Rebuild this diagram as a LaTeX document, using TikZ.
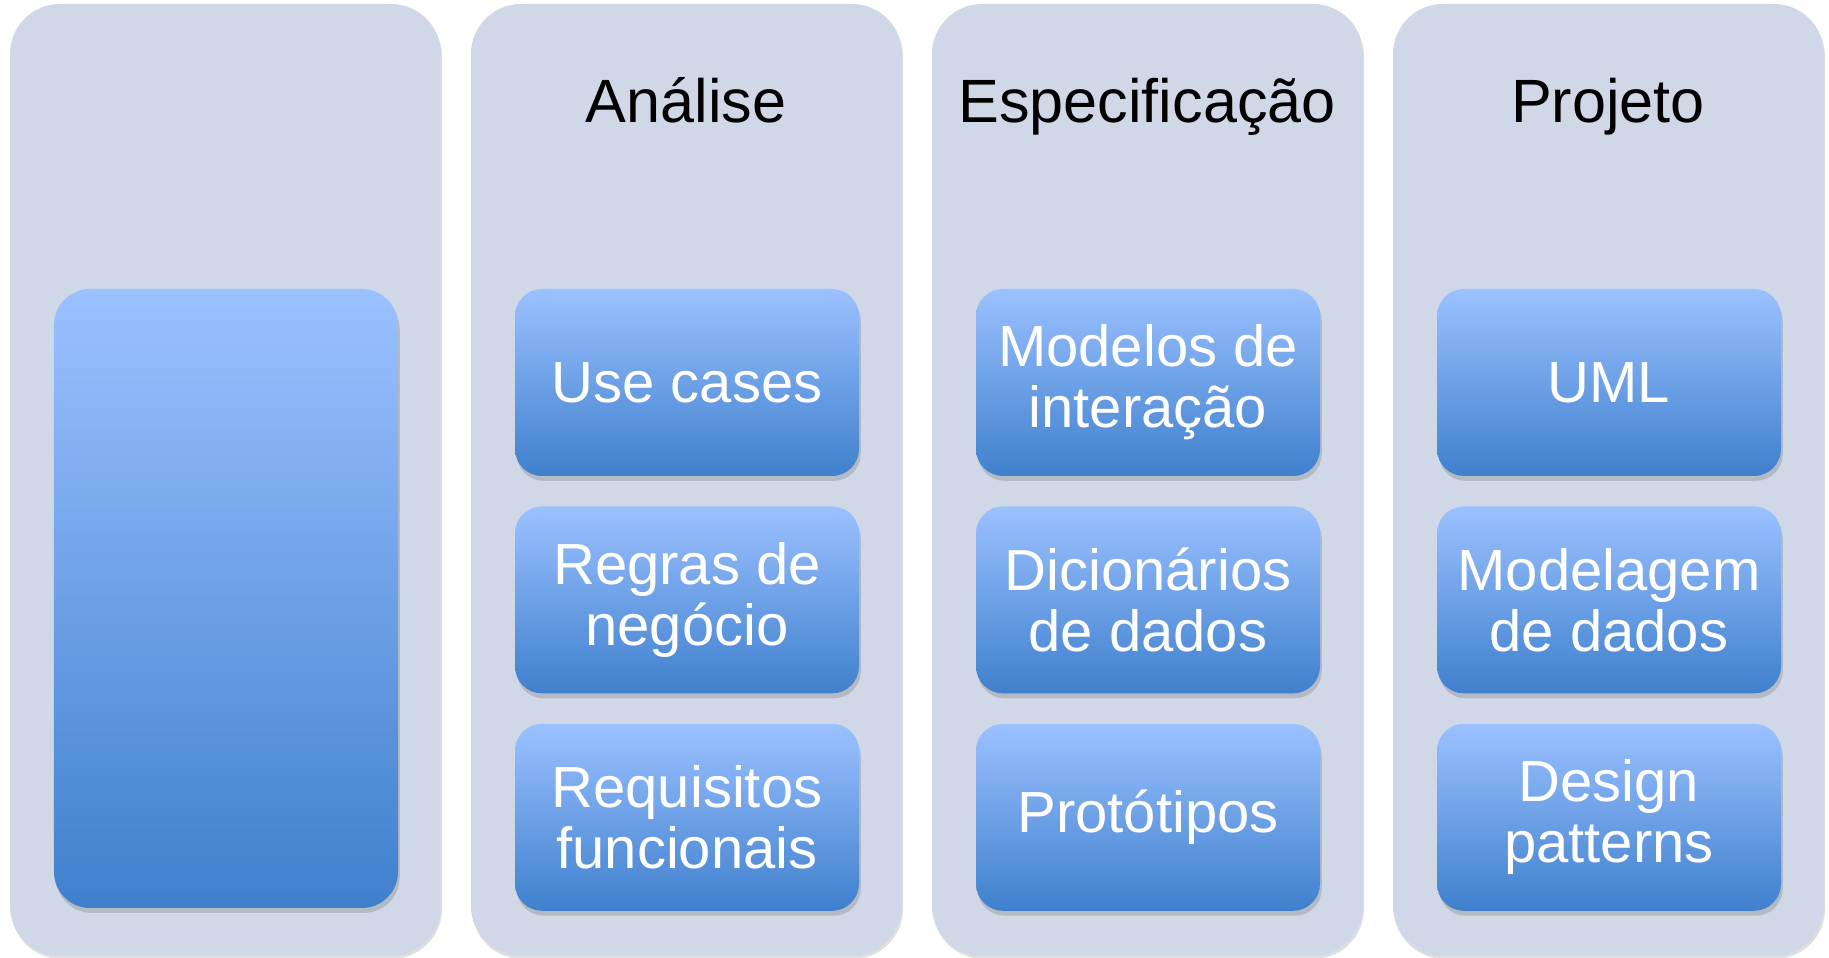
\documentclass[tikz,border=0pt]{standalone}
\usepackage{fontspec}
\setmainfont{Liberation Sans}
\usetikzlibrary{positioning, shadows}
\definecolor{lanefill}{HTML}{D0D8E8}
\definecolor{boxtop}{HTML}{9BC1FF}
\definecolor{boxbot}{HTML}{3F80CD}
\tikzset{
    lane/.style={rounded corners=0.5cm, fill=lanefill, minimum width=4.31cm, minimum height=9.52cm,
        drop shadow={shadow xshift=0.3pt, shadow yshift=-0.8pt, opacity=0.25}},
    coltitle/.style={anchor=base, font=\fontsize{17.4}{20}\selectfont},
    itembox/.style={rounded corners=0.27cm, top color=boxtop, bottom color=boxbot,
        minimum width=3.44cm, minimum height=1.87cm, text=white, align=center,
        font=\fontsize{16.5}{17.35}\selectfont,
        drop shadow={shadow xshift=0.5pt, shadow yshift=-1.4pt, opacity=0.35}},
}
\begin{document}
\begin{tikzpicture}
\useasboundingbox (0,0) rectangle (18.29,9.58);
% lanes
\node[lane] (lane1) at (2.255, 4.78) {};
\node[lane] (lane2) at (6.865, 4.78) {};
\node[lane] (lane3) at (11.475, 4.78) {};
\node[lane] (lane4) at (16.085, 4.78) {};
% titles
\node[coltitle] (analise) at (6.86, 8.35) {Análise};
\node[coltitle] (espec) at (11.47, 8.35) {Especificação};
\node[coltitle] (projeto) at (16.08, 8.35) {Projeto};
% first lane
\node[itembox, minimum height=6.19cm, rounded corners=0.36cm] (lead) at (2.26, 3.595) {};
% analise
\node[itembox] (usecases) at (6.87, 5.755) {Use cases};
\node[itembox, below=0.29cm of usecases] (regras) {Regras de\\negócio};
\node[itembox, below=0.29cm of regras] (requisitos) {Requisitos\\funcionais};
% especificacao
\node[itembox] (modelos) at (11.48, 5.755) {Modelos de\\interação};
\node[itembox, below=0.29cm of modelos] (dicionarios) {Dicionários\\de dados};
\node[itembox, below=0.29cm of dicionarios] (prototipos) {Protótipos};
% projeto
\node[itembox] (uml) at (16.09, 5.755) {UML};
\node[itembox, below=0.29cm of uml] (modelagem) {Modelagem\\de dados};
\node[itembox, below=0.29cm of modelagem] (design) {Design\\patterns};
\end{tikzpicture}
\end{document}
